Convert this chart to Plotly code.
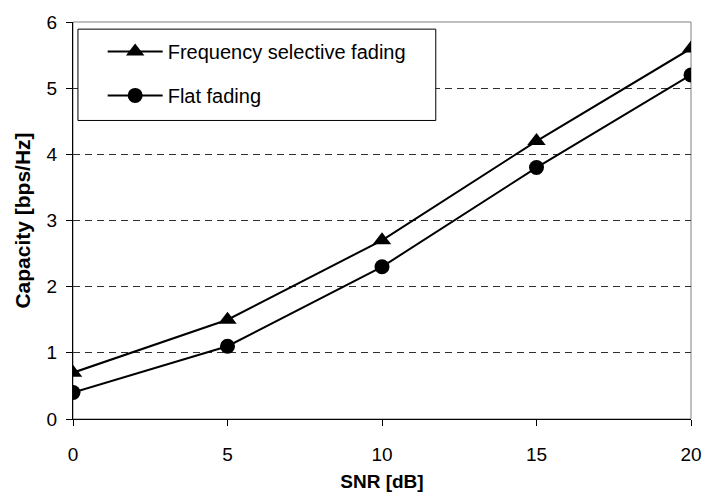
import plotly.graph_objects as go

snr = [0, 5, 10, 15, 20]
freq_sel = [0.7, 1.5, 2.7, 4.2, 5.6]
flat = [0.4, 1.1, 2.3, 3.8, 5.2]
x_ticks = [0, 5, 10, 15, 20]
y_ticks = [0, 1, 2, 3, 4, 5, 6]

FONT = "Liberation Sans, Arial, sans-serif"

fig = go.Figure()
fig.add_trace(go.Scatter(
    x=snr, y=freq_sel, mode="lines+markers", name="Frequency selective fading",
    legendgroup="a",
    line=dict(color="black", width=2),
    marker=dict(symbol="triangle-up", size=16, color="black"),
))
fig.add_trace(go.Scatter(
    x=snr, y=flat, mode="lines+markers", name="Flat fading",
    legendgroup="b",
    line=dict(color="black", width=2),
    marker=dict(symbol="circle", size=15, color="black"),
))

# gray plot-area frame (top / right)
fig.add_shape(type="rect", xref="paper", yref="paper", x0=0, y0=0, x1=1, y1=1,
              line=dict(color="#808080", width=1), layer="below")
# legend frame
fig.add_shape(type="rect", xref="paper", yref="paper", x0=0.008, y0=0.752, x1=0.587, y1=0.982,
              line=dict(color="black", width=1), fillcolor="white", layer="above")

fig.update_layout(
    width=714, height=500,
    margin=dict(l=73, r=14, t=21, b=80),
    paper_bgcolor="white", plot_bgcolor="white",
    font=dict(family=FONT, color="black", size=19),
    showlegend=True,
    legend=dict(
        x=0.048, y=0.975, xanchor="left", yanchor="top",
        bgcolor="rgba(0,0,0,0)", borderwidth=0,
        font=dict(size=20, family=FONT),
        itemwidth=55, tracegroupgap=15, traceorder="grouped",
    ),
    xaxis=dict(
        range=[0, 20], tickvals=x_ticks, ticks="outside", ticklen=6,
        tickcolor="black", showline=True, linecolor="black", linewidth=1,
        showgrid=False, zeroline=False, ticklabelstandoff=12,
        title=dict(text="<b>SNR [dB]</b>", font=dict(size=19), standoff=10),
        tickfont=dict(size=19),
    ),
    yaxis=dict(
        range=[0, 6], tickvals=y_ticks, ticks="outside", ticklen=6,
        tickcolor="black", showline=True, linecolor="black", linewidth=1,
        showgrid=True, gridcolor="#303030", gridwidth=1, griddash="7px,5px",
        zeroline=False, ticklabelstandoff=5,
        title=dict(text="<b>Capacity [bps/Hz]</b>", font=dict(size=21), standoff=10),
        tickfont=dict(size=19),
    ),
)

fig.write_html("out.html")
